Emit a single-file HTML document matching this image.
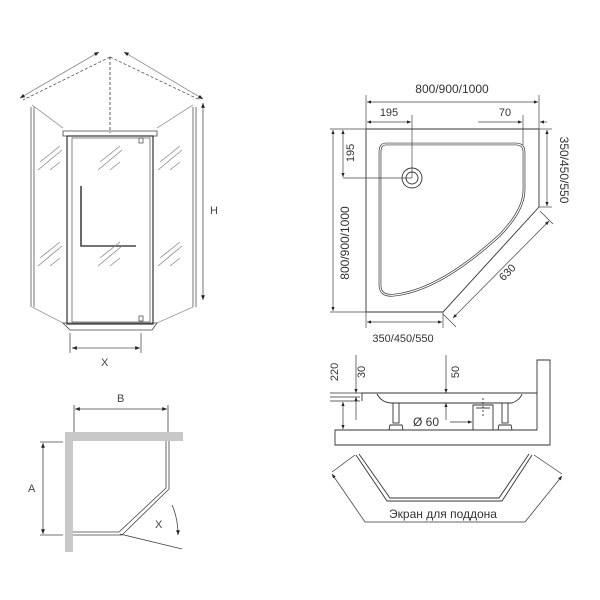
<!DOCTYPE html>
<html><head><meta charset="utf-8"><style>
html,body{margin:0;padding:0;background:#fff;}
svg{display:block;font-family:"Liberation Sans","DejaVu Sans",sans-serif;}
</style></head><body>
<svg width="600" height="600" viewBox="0 0 600 600" xmlns="http://www.w3.org/2000/svg">
<defs>
<marker id="a" viewBox="0 0 10 10" refX="10" refY="5" markerWidth="6" markerHeight="6" orient="auto-start-reverse"><path d="M0,1 L10,5 L0,9 z" fill="#222"/></marker>
</defs>
<g fill="none" stroke="#555" stroke-width="0.8">
<!-- cabin -->
<line x1="110" y1="57" x2="23" y2="100" stroke-dasharray="3,2"/>
<line x1="110" y1="57" x2="200" y2="100" stroke-dasharray="3,2"/>
<line x1="110" y1="57" x2="110" y2="133" stroke-dasharray="3,2" stroke="#333"/>
<line x1="99" y1="52" x2="20" y2="98" stroke="#888" marker-start="url(#a)" marker-end="url(#a)"/>
<line x1="124" y1="52" x2="203" y2="99" stroke="#888" marker-start="url(#a)" marker-end="url(#a)"/>
<line x1="32" y1="105" x2="63" y2="128" stroke="#999"/>
<line x1="193" y1="105" x2="157" y2="128" stroke="#999"/>
<line x1="32" y1="307" x2="63" y2="323" stroke="#999"/>
<line x1="193" y1="307" x2="157" y2="323" stroke="#999"/>
<line x1="31" y1="107" x2="31" y2="307"/><line x1="34" y1="107" x2="34" y2="307"/>
<line x1="193" y1="107" x2="193" y2="307"/><line x1="196" y1="107" x2="196" y2="307"/>
<path d="M63,131 L157,131 L157,136 L63,136 Z" stroke="#444"/>
<path d="M63,323 L157,323 L152,330 L70,330 Z" stroke="#444"/>
<rect x="67" y="136" width="86" height="188" stroke="#333" stroke-width="1.2"/>
<rect x="72" y="138" width="78" height="184" stroke="#666"/>
<path d="M81,186 L81,246 L136,246" stroke="#444" stroke-width="1.6"/>
<rect x="139" y="138" width="4" height="5"/><rect x="139" y="316" width="4" height="5"/>
<g stroke="#888">
<line x1="40" y1="162" x2="60" y2="146"/><line x1="38" y1="170" x2="62" y2="150"/><line x1="50" y1="170" x2="60" y2="162"/>
<line x1="100" y1="162" x2="120" y2="146"/><line x1="98" y1="170" x2="122" y2="150"/><line x1="110" y1="170" x2="120" y2="162"/>
<line x1="160" y1="162" x2="180" y2="146"/><line x1="158" y1="170" x2="182" y2="150"/><line x1="170" y1="170" x2="180" y2="162"/>
<line x1="40" y1="258" x2="60" y2="242"/><line x1="38" y1="266" x2="62" y2="246"/><line x1="50" y1="266" x2="60" y2="258"/>
<line x1="100" y1="258" x2="120" y2="242"/><line x1="98" y1="266" x2="122" y2="246"/><line x1="110" y1="266" x2="120" y2="258"/>
<line x1="160" y1="258" x2="180" y2="242"/><line x1="158" y1="266" x2="182" y2="246"/><line x1="170" y1="266" x2="180" y2="258"/>
</g>
<line x1="203" y1="103" x2="203" y2="300" marker-start="url(#a)" marker-end="url(#a)"/>
<line x1="70" y1="333" x2="70" y2="353"/><line x1="141" y1="333" x2="141" y2="353"/>
<line x1="72" y1="348" x2="140" y2="348" marker-start="url(#a)" marker-end="url(#a)"/>
</g>
<g fill="#444" font-size="11"><text x="210" y="214">H</text><text x="101" y="366">X</text></g>

<!-- tray plan -->
<g fill="none" stroke="#333" stroke-width="0.9">
<path d="M366,129 L539,129 L539,207 L443,312 L366,312 Z"/>
<path d="M386,144 L516,144 Q524,144 524,152 L524,190 Q524,210 500,235 Q440,290 395,295 Q380,297 380,285 L380,152 Q380,144 386,144 Z" stroke-width="2.6"/>
<path d="M386,144 L516,144 Q524,144 524,152 L524,190 Q524,210 500,235 Q440,290 395,295 Q380,297 380,285 L380,152 Q380,144 386,144 Z" stroke="#fff" stroke-width="1.2"/>
<circle cx="412" cy="178" r="10"/><circle cx="412" cy="178" r="6"/>
<g stroke="#444" stroke-width="0.7">
<line x1="366" y1="95" x2="366" y2="129"/><line x1="539" y1="95" x2="539" y2="129"/>
<line x1="367" y1="102" x2="538" y2="102" marker-start="url(#a)" marker-end="url(#a)"/>
<line x1="412" y1="115" x2="412" y2="178"/>
<line x1="367" y1="122" x2="411" y2="122" marker-start="url(#a)" marker-end="url(#a)"/>
<line x1="523" y1="115" x2="523" y2="145"/>
<line x1="478" y1="122" x2="522" y2="122" marker-end="url(#a)"/>
<line x1="547" y1="122" x2="540" y2="122" marker-end="url(#a)"/>
<line x1="330" y1="129" x2="366" y2="129"/><line x1="343" y1="178" x2="412" y2="178"/><line x1="330" y1="312" x2="366" y2="312"/>
<line x1="333" y1="130" x2="333" y2="311" marker-start="url(#a)" marker-end="url(#a)"/>
<line x1="343" y1="130" x2="343" y2="177" marker-start="url(#a)" marker-end="url(#a)"/>
<line x1="539" y1="129" x2="552" y2="129"/><line x1="539" y1="207" x2="552" y2="207"/>
<line x1="547" y1="130" x2="547" y2="206" marker-start="url(#a)" marker-end="url(#a)"/>
<line x1="540" y1="211" x2="553" y2="224"/><line x1="443" y1="314" x2="456" y2="327"/>
<line x1="549" y1="221" x2="453" y2="318" marker-start="url(#a)" marker-end="url(#a)"/>
<line x1="366" y1="312" x2="366" y2="328"/><line x1="443" y1="312" x2="443" y2="328"/>
<line x1="367" y1="322" x2="442" y2="322" marker-start="url(#a)" marker-end="url(#a)"/>
</g></g>
<g fill="#333" font-size="12">
<text x="452" y="93" text-anchor="middle">800/900/1000</text>
<text x="389" y="116" text-anchor="middle" font-size="11">195</text>
<text x="505" y="116" text-anchor="middle" font-size="11">70</text>
<text transform="translate(354,153) rotate(-90)" text-anchor="middle" font-size="11">195</text>
<text transform="translate(349,243) rotate(-90)" text-anchor="middle">800/900/1000</text>
<text transform="translate(560,170) rotate(90)" text-anchor="middle">350/450/550</text>
<text transform="translate(510,275) rotate(-45)" text-anchor="middle" font-size="11">630</text>
<text x="403" y="342" text-anchor="middle" font-size="11">350/450/550</text>
</g>

<!-- side view -->
<g fill="none" stroke="#333" stroke-width="0.9">
<path d="M335,430 L537,430 L537,360 L550,360 L550,445 L335,445 Z"/>
<path d="M362,401 L362,393 L537,393"/>
<path d="M377,394 Q382,403 392,403 L512,403 Q520,400 522,394"/>
<rect x="393" y="403" width="6" height="20"/><rect x="502" y="403" width="6" height="20"/>
<path d="M389,430 L390,425 L402,425 L403,430 M498,430 L499,425 L511,425 L512,430"/>
<path d="M473,430 L473,405 L493,405 L493,430"/>
<line x1="483" y1="398" x2="483" y2="418" stroke-dasharray="2,2"/>
<line x1="476" y1="408" x2="490" y2="408"/>
<g stroke-width="0.7">
<line x1="330" y1="393" x2="362" y2="393"/><line x1="330" y1="397" x2="360" y2="397"/><line x1="330" y1="401" x2="360" y2="401"/>
<line x1="343" y1="402" x2="343" y2="429" marker-start="url(#a)" marker-end="url(#a)"/>
<line x1="356" y1="355" x2="356" y2="393" marker-end="url(#a)"/>
<line x1="356" y1="420" x2="356" y2="397" marker-end="url(#a)"/>
<line x1="446" y1="355" x2="446" y2="393" marker-end="url(#a)"/>
<line x1="446" y1="420" x2="446" y2="403" marker-end="url(#a)"/>
<line x1="450" y1="422" x2="472" y2="422" marker-end="url(#a)"/>
</g></g>
<g fill="#333" font-size="11">
<text transform="translate(338,372) rotate(-90)" text-anchor="middle">220</text>
<text transform="translate(365,372) rotate(-90)" text-anchor="middle">30</text>
<text transform="translate(459,372) rotate(-90)" text-anchor="middle">50</text>
<text x="413" y="426" font-size="12">Ø 60</text>
</g>

<!-- screen -->
<g fill="none" stroke="#333" stroke-width="0.9">
<path d="M356,455 L387,501 L502,501 L532,455"/>
<path d="M359,454 L390,498 L499,498 L529,454"/>
<g stroke-width="0.7">
<path d="M365,522 L332,474" marker-end="url(#a)"/><line x1="355" y1="455" x2="332" y2="472"/>
<line x1="365" y1="522" x2="525" y2="522"/>
<path d="M525,522 L562,476" marker-end="url(#a)"/><line x1="534" y1="455" x2="562" y2="474"/>
</g></g>
<text x="443" y="518" text-anchor="middle" font-size="12" fill="#333">Экран для поддона</text>

<!-- plan view -->
<g>
<rect x="65" y="432" width="118" height="9" fill="#c8c8c8"/>
<rect x="65" y="432" width="8" height="120" fill="#c8c8c8"/>
<g fill="none" stroke="#444" stroke-width="0.8">
<path d="M166,441 L166,488 L119,532 L73,532"/>
<path d="M169,441 L169,489 L122,535 L73,535"/>
<line x1="120" y1="534" x2="182" y2="549"/>
<path d="M172,505 Q178,518 178,535" marker-end="url(#a)"/>
<line x1="74" y1="405" x2="74" y2="432"/><line x1="168" y1="405" x2="168" y2="432"/>
<line x1="75" y1="409" x2="167" y2="409" marker-start="url(#a)" marker-end="url(#a)"/>
<line x1="40" y1="442" x2="63" y2="442"/><line x1="40" y1="535" x2="63" y2="535"/>
<line x1="43" y1="443" x2="43" y2="534" marker-start="url(#a)" marker-end="url(#a)"/>
</g></g>
<g fill="#444" font-size="11"><text x="117" y="402">B</text><text x="28" y="492">A</text><text x="155" y="528">X</text></g>
</svg>
</body></html>
